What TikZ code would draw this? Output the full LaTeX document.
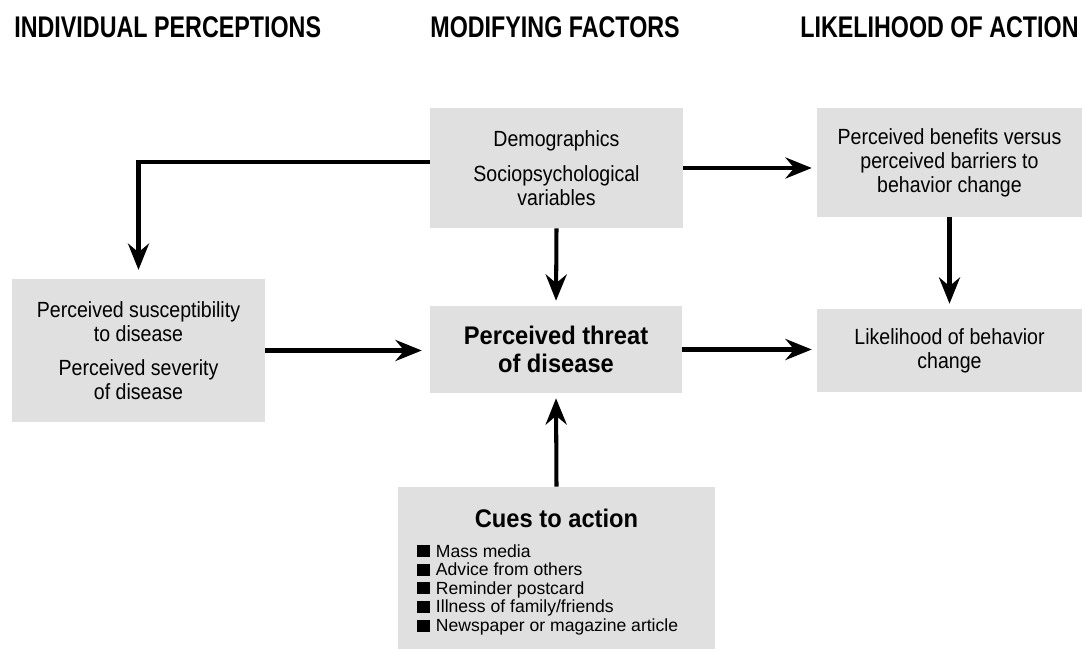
\documentclass[tikz,border=0pt]{standalone}
\usepackage{fontspec}
\setmainfont{Liberation Sans}
\newfontfamily\hdfont[FakeStretch=0.78]{Liberation Sans}
\newfontfamily\bodyfont[FakeStretch=0.89]{Liberation Sans}
\newfontfamily\keyfont[FakeStretch=0.93]{Liberation Sans}
\usetikzlibrary{arrows.meta,positioning,calc}
\definecolor{boxgray}{HTML}{E0E0E0}
\newcommand{\cuebullet}{\rule{7.2pt}{6.8pt}\hspace{3.4pt}}
\tikzset{
  box/.style={fill=boxgray,inner sep=0pt,align=center,font=\bodyfont\fontsize{12.5}{13.6}\selectfont},
  keybox/.style={box,font=\keyfont\bfseries\fontsize{14.5}{16}\selectfont},
  arr/.style={-{Stealth[length=15pt,width=12pt,inset=5pt]},line width=2.3pt,shorten >=2.8pt},
  hd/.style={font=\hdfont\bfseries\fontsize{17}{17}\selectfont,anchor=base west,inner sep=0pt},
  cuehead/.style={font=\keyfont\bfseries\fontsize{14.5}{16}\selectfont,anchor=base,inner sep=0pt},
  cuelist/.style={font=\fontsize{10}{10.6}\selectfont,align=left,anchor=north west,inner sep=0pt},
}
\begin{document}
\begin{tikzpicture}[x=0.02cm,y=-0.02cm]
  \useasboundingbox (0,0) rectangle (1082,651);
  % column heads
  \node[hd] (h1) at (14,38) {INDIVIDUAL PERCEPTIONS};
  \node[hd] (h2) at (430,38) {MODIFYING FACTORS};
  \node[hd] (h3) at (800,38) {LIKELIHOOD OF ACTION};
  % boxes
  \node[box,minimum width=5.06cm,minimum height=2.86cm] (sus) at (138.5,350.5) {Perceived susceptibility\\to disease\\[6pt]Perceived severity\\of disease};
  \node[box,minimum width=5.06cm,minimum height=2.4cm] (dem) at (556.5,168) {Demographics\\[6pt]Sociopsychological\\variables};
  \node[keybox,minimum width=5.04cm,minimum height=1.74cm] (thr) at (556,349.5) {Perceived threat\\of disease};
  \node[box,minimum width=5.3cm,minimum height=2.18cm] (ben) at (949.5,162.5) {Perceived benefits versus\\perceived barriers to\\behavior change};
  \node[box,minimum width=5.3cm,minimum height=1.66cm] (lik) at (949.5,350.5) {Likelihood of behavior\\change};
  % cues
  \node[box,minimum width=6.34cm,minimum height=3.24cm] (cues) at (556.5,568) {};
  \node[cuehead] (cuet) at (556.5,528) {Cues to action};
  \node[cuelist] (cuel) at (417,544) {\cuebullet Mass media\\\cuebullet Advice from others\\\cuebullet Reminder postcard\\\cuebullet Illness of family/friends\\\cuebullet Newspaper or magazine article};
  % arrows
  \draw[arr,shorten >=5pt] ([yshift=0.12cm]dem.west) -| (sus.north);
  \draw[arr] (dem.south) -- (thr.north);
  \draw[arr] (dem.east) -- (dem.east -| ben.west);
  \draw[arr,shorten >=4.5pt] (sus.east) -- (sus.east -| thr.west);
  \draw[arr] (thr.east) -- (thr.east -| lik.west);
  \draw[arr] (ben.south) -- (lik.north);
  \draw[arr] (cues.north) -- (thr.south);
\end{tikzpicture}
\end{document}
